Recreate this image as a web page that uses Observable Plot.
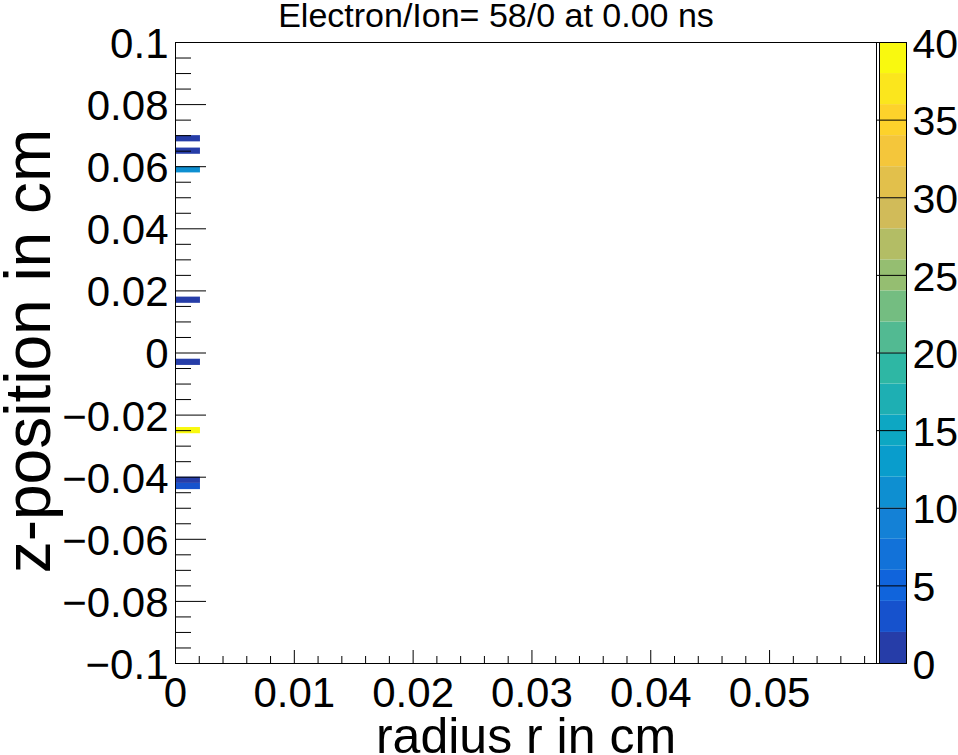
<!DOCTYPE html>
<html><head><meta charset="utf-8">
<script src="https://cdn.jsdelivr.net/npm/d3@7"></script>
<script src="https://cdn.jsdelivr.net/npm/@observablehq/plot@0.6"></script>
<style>
body{margin:0;background:#fff;}
#wrap{position:relative;width:958px;height:755px;}
#wrap svg{position:absolute;left:0;top:0;}
</style></head><body><div id="wrap"></div>
<script>
// ---- data ----
const zBinLow = [0.068, 0.064, 0.058, 0.016, -0.004, -0.026, -0.042, -0.044];
const counts  = [1, 1, 11, 1, 1, 39, 1, 3];
const zBinWidth = 0.002;
const rBinLow = 0;
const rBinWidth = 0.0021;
const xTicks = [0, 0.01, 0.02, 0.03, 0.04, 0.05];
const xTickLabels = ["0", "0.01", "0.02", "0.03", "0.04", "0.05"];
const yTicks = [-0.1, -0.08, -0.06, -0.04, -0.02, 0, 0.02, 0.04, 0.06, 0.08, 0.1];
const yTickLabels = ["\u22120.1", "\u22120.08", "\u22120.06", "\u22120.04", "\u22120.02", "0", "0.02", "0.04", "0.06", "0.08", "0.1"];
const zTicks = [0, 5, 10, 15, 20, 25, 30, 35, 40];
const zTickLabels = ["0", "5", "10", "15", "20", "25", "30", "35", "40"];
const levelEdges = [0, 2, 4, 6, 8, 10, 12, 14, 16, 18, 20, 22, 24, 26, 28, 30, 32, 34, 36, 38, 40];
const levelColors = ["#263da8", "#1652cd", "#1064dc", "#1272d9", "#1481d6", "#0e8fd1", "#099dcc", "#0da7c3", "#1eafb3", "#2eb7a4",
                     "#52ba92", "#74bd81", "#95be71", "#b3bd65", "#d1bb59", "#e2c04b", "#f4c63b", "#fdd22b", "#fbe61d", "#f9f90f"];
const titleText = "Electron/Ion= 58/0 at 0.00 ns";
const xTitle = "radius r in cm";
const yTitle = "z-position in cm";

// ---- layout ----
const W = 958, H = 755, mL = 175, mR = 82, mT = 42, mB = 92;
const fw = W - mL - mR, fh = H - mT - mB;
const font = "'Liberation Sans', Arial, Helvetica, sans-serif";

const cells = zBinLow.map((z, i) => ({r1: rBinLow, r2: rBinLow + rBinWidth, z1: z, z2: z + zBinWidth, n: counts[i]}));
const yLab = yTicks.map((v, i) => ({v, t: yTickLabels[i]}));
const xLab = xTicks.map((v, i) => ({v, t: xTickLabels[i]}));
const zLab = zTicks.map((v, i) => ({v, t: zTickLabels[i]}));
const yMinor = d3.range(-20, 21).map(k => k * 0.005).filter(v => Math.abs(Math.round(v * 1000) % 20) !== 0);
const xMinor = d3.range(0, 30).map(k => k * 0.002).filter(v => Math.round(v * 1000) % 10 !== 0);

const main = Plot.plot({
  width: W, height: H, marginLeft: mL, marginRight: mR, marginTop: mT, marginBottom: mB,
  style: {fontFamily: font, background: "white", color: "black"},
  x: {domain: [0, 0.059], axis: null},
  y: {domain: [-0.1, 0.1], axis: null},
  color: {type: "threshold", domain: levelEdges.slice(1, -1), range: levelColors},
  marks: [
    Plot.rect(cells, {x1: "r1", x2: "r2", y1: "z1", y2: "z2", fill: "n"}),
    Plot.tickY(yMinor, {y: d => d, stroke: "black", insetRight: fw - 16}),
    Plot.tickY(yTicks, {y: d => d, stroke: "black", insetRight: fw - 31}),
    Plot.tickX(xMinor, {x: d => d, stroke: "black", insetTop: fh - 7}),
    Plot.tickX(xTicks, {x: d => d, stroke: "black", insetTop: fh - 13}),
    Plot.frame({stroke: "black"}),
    Plot.text(yLab, {y: "v", text: "t", frameAnchor: "left", textAnchor: "end", lineAnchor: "middle", dx: -7, dy: 2, fontSize: 42, fill: "black"}),
    Plot.text(xLab, {x: "v", text: "t", frameAnchor: "bottom", textAnchor: "middle", lineAnchor: "bottom", dy: 43, fontSize: 42, fill: "black"}),
    Plot.text([xTitle], {text: d => d, frameAnchor: "bottom", textAnchor: "middle", lineAnchor: "bottom", dy: 89, fontSize: 50, fill: "black"}),
    Plot.text([yTitle], {text: d => d, frameAnchor: "left", textAnchor: "middle", lineAnchor: "bottom", rotate: -90, dx: -126, dy: -2, fontSize: 64, fill: "black"}),
    Plot.text([titleText], {text: d => d, frameAnchor: "top", textAnchor: "middle", lineAnchor: "bottom", dx: -30, dy: -16, fontSize: 34, fill: "black"})
  ]
});

const bands = levelColors.map((c, i) => ({lo: levelEdges[i], hi: levelEdges[i + 1], c}));
const bar = Plot.plot({
  width: W, height: H, marginLeft: 879, marginRight: 52, marginTop: mT, marginBottom: mB,
  style: {fontFamily: font, background: "transparent", color: "black"},
  x: {domain: [0, 1], axis: null},
  y: {domain: [0, 40], axis: null},
  color: {type: "identity"},
  marks: [
    Plot.rect(bands, {x1: 0, x2: 1, y1: "lo", y2: "hi", fill: "c"}),
    Plot.tickY(zTicks, {y: d => d, stroke: "black", insetLeft: -3}),
    Plot.frame({stroke: "black"}),
    Plot.text(zLab, {y: "v", text: "t", frameAnchor: "right", textAnchor: "start", lineAnchor: "middle", dx: 6, dy: 2, fontSize: 41, fill: "black"})
  ]
});

const wrap = document.getElementById("wrap");
wrap.appendChild(main);
wrap.appendChild(bar);
</script>
</body></html>
